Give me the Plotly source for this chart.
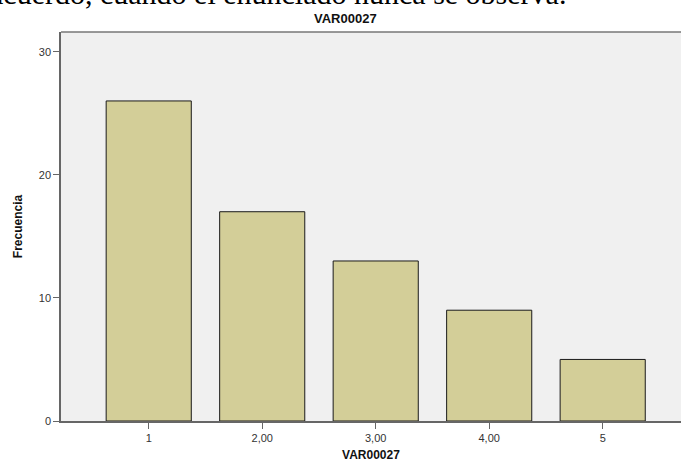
import plotly.graph_objects as go

categories = ["1", "2,00", "3,00", "4,00", "5"]
positions = [1, 2, 3, 4, 5]
frecuencia = [26, 17, 13, 9, 5]
y_ticks = [0, 10, 20, 30]

fig = go.Figure()
fig.add_trace(go.Bar(
    x=positions, y=frecuencia, width=0.75,
    marker=dict(color="#D3CE98", line=dict(color="#1a1a1a", width=1)),
))

fig.update_layout(
    width=681, height=464,
    margin=dict(l=61, r=0, t=32, b=43),
    paper_bgcolor="white", plot_bgcolor="#F0F0F0",
    showlegend=False,
    font=dict(family="Arial, Liberation Sans, sans-serif", color="#333333"),
    xaxis=dict(
        range=[0.227, 5.69], tickvals=positions, ticktext=categories,
        showgrid=False, zeroline=False, showline=True, linecolor="#666666", linewidth=1.5,
        ticks="outside", ticklen=6, tickcolor="#666666", tickfont=dict(size=11, color="#333333"),
        title=dict(text="<b>VAR00027</b>", font=dict(size=12, color="#111111"), standoff=8),
    ),
    yaxis=dict(
        range=[0, 31.6], tickvals=y_ticks,
        showgrid=False, zeroline=False, showline=True, linecolor="#666666", linewidth=1.5,
        ticks="outside", ticklen=6, tickcolor="#666666", tickfont=dict(size=11, color="#333333"),
        title=dict(text="<b>Frecuencia</b>", font=dict(size=12, color="#111111"), standoff=14),
    ),
    shapes=[dict(type="line", xref="paper", yref="paper", x0=0, x1=1, y0=1, y1=1,
                 line=dict(color="#777777", width=1.5))],
    annotations=[
        dict(text="<b>VAR00027</b>", xref="paper", yref="paper", x=(345 - 61) / 620, y=1,
             yshift=14, xanchor="center", yanchor="middle", showarrow=False,
             font=dict(size=13, color="#111111")),
        dict(text="acuerdo, cuando el enunciado nunca se observa.", xref="paper", yref="paper",
             x=-61 / 620, xshift=-12, y=1, yshift=20, xanchor="left", yanchor="bottom",
             showarrow=False, font=dict(family="Liberation Serif, Times New Roman, serif", size=30, color="#000000")),
    ],
)

fig.write_html("out.html", config={"displayModeBar": False},
               post_script="document.body.style.margin='0';")
